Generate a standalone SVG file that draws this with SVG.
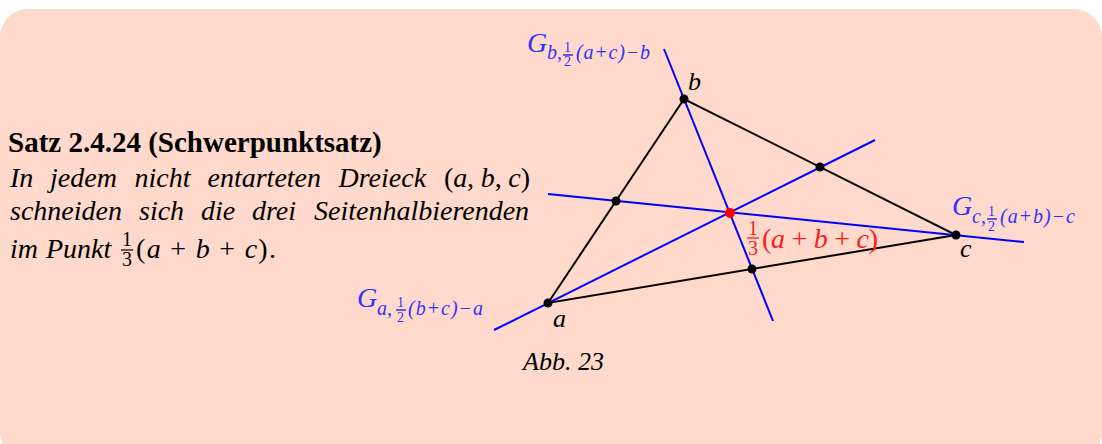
<svg xmlns="http://www.w3.org/2000/svg" width="1102" height="444" viewBox="0 0 1102 444" font-family="'Liberation Serif', 'Times New Roman', serif">
<style>
text{font-family:"Liberation Serif","Times New Roman",serif;}
.t{font-size:28px;font-style:italic;fill:#000;}
.up{font-style:normal;}
.i{font-style:italic;}
.blk{stroke:#000;stroke-width:2;fill:none;}
.blu{stroke:#0000ff;stroke-width:2;fill:none;}
.bl{fill:#3333ff;}
.rd{fill:#ff1a1a;}
.G{font-size:28px;font-style:italic;}
.s{font-size:20px;font-style:italic;}
.f{font-size:14px;font-style:normal;}
</style>
<rect x="0" y="9" width="1102" height="452" rx="28" ry="28" fill="#fed9cc"/>
<g id="text">
<text x="8" y="152" font-size="29" font-weight="bold">Satz 2.4.24 (Schwerpunktsatz)</text>
<text class="t" y="187"><tspan x="10">In</tspan><tspan x="50">jedem</tspan><tspan x="134.5">nicht</tspan><tspan x="207.5">entarteten</tspan><tspan x="338.5">Dreieck</tspan></text>
<text class="t up" x="444" y="187" textLength="86" lengthAdjust="spacing">(<tspan class="i">a</tspan>, <tspan class="i">b</tspan>, <tspan class="i">c</tspan>)</text>
<text class="t" y="220"><tspan x="10">schneiden</tspan><tspan x="139">sich</tspan><tspan x="201">die</tspan><tspan x="252">drei</tspan><tspan x="314">Seitenhalbierenden</tspan></text>
<text class="t" y="258"><tspan x="10">im</tspan><tspan x="46">Punkt</tspan></text>
<text x="122" y="246" font-size="20">1</text>
<line x1="121" y1="250" x2="133" y2="250" stroke="#000" stroke-width="1.2"/>
<text x="122" y="266" font-size="20">3</text>
<text class="t up" x="136" y="258" textLength="140" lengthAdjust="spacing">(<tspan class="i">a</tspan> + <tspan class="i">b</tspan> + <tspan class="i">c</tspan>).</text>
<text class="t" x="523" y="370" style="font-size:26px">Abb. 23</text>
</g>
<g id="connectors">
<polygon class="blk" points="548,303 684,99 956,235"/>
<line class="blu" x1="494" y1="330" x2="875" y2="140"/>
<line class="blu" x1="664" y1="49" x2="773" y2="321"/>
<line class="blu" x1="548" y1="194" x2="1024" y2="242"/>
</g>
<g id="node-a"><circle cx="548" cy="303" r="4.5"/><text class="G" x="553" y="327" style="font-size:26px">a</text></g>
<g id="node-b"><circle cx="684" cy="99" r="4.5"/><text class="G" x="688" y="90" style="font-size:26px">b</text></g>
<g id="node-c"><circle cx="956" cy="235" r="4.5"/><text class="G" x="960" y="257" style="font-size:26px">c</text></g>
<g id="node-mab"><circle cx="616" cy="201" r="4.5"/></g>
<g id="node-mbc"><circle cx="820" cy="167" r="4.5"/></g>
<g id="node-mac"><circle cx="752" cy="269" r="4.5"/></g>
<g id="node-centroid">
<circle cx="730" cy="213" r="5" fill="#ff0000"/>
<text class="rd" x="748" y="235" font-size="20">1</text>
<line x1="747" y1="238" x2="759" y2="238" stroke="#ff1a1a" stroke-width="1.3"/>
<text class="rd" x="748" y="255" font-size="20">3</text>
<text class="rd" x="762" y="248" font-size="28" textLength="116" lengthAdjust="spacing">(<tspan class="i">a</tspan> + <tspan class="i">b</tspan> + <tspan class="i">c</tspan>)</text>
</g>
<g id="label-Gb" class="bl">
<text class="G" x="527" y="52">G</text>
<text class="s" x="547" y="59">b,</text>
<text class="f" x="564" y="52">1</text>
<line x1="563" y1="55" x2="573" y2="55" stroke="#0000ff" stroke-width="1.2"/>
<text class="f" x="564" y="66">2</text>
<text class="s up" x="576" y="59" textLength="74" lengthAdjust="spacing">(<tspan class="i">a</tspan>+<tspan class="i">c</tspan>)−<tspan class="i">b</tspan></text>
</g>
<g id="label-Ga" class="bl">
<text class="G" x="357" y="307">G</text>
<text class="s" x="377" y="315">a,</text>
<text class="f" x="397" y="307">1</text>
<line x1="396" y1="310" x2="406" y2="310" stroke="#0000ff" stroke-width="1.2"/>
<text class="f" x="397" y="322">2</text>
<text class="s up" x="408" y="315" textLength="75" lengthAdjust="spacing">(<tspan class="i">b</tspan>+<tspan class="i">c</tspan>)−<tspan class="i">a</tspan></text>
</g>
<g id="label-Gc" class="bl">
<text class="G" x="952" y="215">G</text>
<text class="s" x="972" y="223">c,</text>
<text class="f" x="988" y="216">1</text>
<line x1="987" y1="219" x2="997" y2="219" stroke="#0000ff" stroke-width="1.2"/>
<text class="f" x="988" y="231">2</text>
<text class="s up" x="1000" y="223" textLength="75" lengthAdjust="spacing">(<tspan class="i">a</tspan>+<tspan class="i">b</tspan>)−<tspan class="i">c</tspan></text>
</g>
</svg>
